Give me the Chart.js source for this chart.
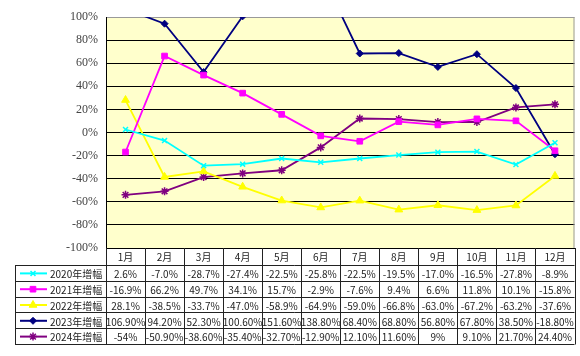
<!DOCTYPE html>
<html>
<head>
<meta charset="utf-8">
<script src="https://cdn.jsdelivr.net/npm/chart.js@4/dist/chart.umd.min.js"></script>
<style>
  html, body { margin: 0; padding: 0; background: #fff; }
  #wrap { width: 580px; height: 356px; }
</style>
</head>
<body>
<div id="wrap"><canvas id="grafico" width="580" height="356"></canvas></div>
<script>
// 月份与各年增幅 (%)
const months = ['1月', '2月', '3月', '4月', '5月', '6月', '7月', '8月', '9月', '10月', '11月', '12月'];
const seriesNames = ['2020年增幅', '2021年增幅', '2022年增幅', '2023年增幅', '2024年增幅'];
const growth2020 = [2.6, -7.0, -28.7, -27.4, -22.5, -25.8, -22.5, -19.5, -17.0, -16.5, -27.8, -8.9];
const growth2021 = [-16.9, 66.2, 49.7, 34.1, 15.7, -2.9, -7.6, 9.4, 6.6, 11.8, 10.1, -15.8];
const growth2022 = [28.1, -38.5, -33.7, -47.0, -58.9, -64.9, -59.0, -66.8, -63.0, -67.2, -63.2, -37.6];
const growth2023 = [106.9, 94.2, 52.3, 100.6, 151.6, 138.8, 68.4, 68.8, 56.8, 67.8, 38.5, -18.8];
const growth2024 = [-54, -50.9, -38.6, -35.4, -32.7, -12.9, 12.1, 11.6, 9, 9.1, 21.7, 24.4];
const decimals = [1, 1, 1, 2, 2];   // 表格里每行的小数位
const yMin = -100, yMax = 100, yStep = 20;

const colors = ['#00FFFF', '#FF00FF', '#FFFF00', '#000080', '#800080'];
const styles = [
  { pointStyle: 'crossRot', pointRadius: 3.5, pointBorderWidth: 1.5 },
  { pointStyle: 'rect', pointRadius: 4, pointBorderWidth: 1 },
  { pointStyle: 'triangle', pointRadius: 4.5, pointBorderWidth: 1 },
  { pointStyle: 'rectRot', pointRadius: 3.5, pointBorderWidth: 1 },
  { pointStyle: 'star', pointRadius: 4, pointBorderWidth: 1.5 }
];
const allSeries = [growth2020, growth2021, growth2022, growth2023, growth2024];

function fmt(v, d) {
  if (d === 2 && Number.isInteger(v)) return v + '%';
  return v.toFixed(d) + '%';
}

const tableFont = '10px "Noto Sans CJK SC", sans-serif';

// 背景 + 下方数据表
const tablePlugin = {
  id: 'tabla',
  beforeDraw(chart) {
    const a = chart.chartArea, c = chart.ctx;
    c.save();
    c.fillStyle = '#FFFFCC';
    c.fillRect(a.left, a.top, a.right - a.left, a.bottom - a.top);
    c.restore();
  },
  afterDraw(chart) {
    const a = chart.chartArea, c = chart.ctx;
    const xs = chart.scales.x;
    const colW = (a.right - a.left) / months.length;
    const rowH = 15.8;
    const headTop = a.bottom, headBot = a.bottom + 17;
    const tableLeft = 15;
    const tableBot = headBot + rowH * seriesNames.length;

    c.save();
    // 右边框
    c.strokeStyle = '#999';
    c.lineWidth = 1;
    c.beginPath();
    c.moveTo(a.right - 0.5, a.top);
    c.lineTo(a.right - 0.5, a.bottom);
    c.stroke();

    // 表格线
    c.strokeStyle = '#222';
    c.beginPath();
    for (let i = 0; i <= months.length; i++) {
      const x = Math.round(a.left + i * colW) + 0.5;
      c.moveTo(x, headTop);
      c.lineTo(x, Math.round(tableBot) + 0.5);
    }
    c.moveTo(tableLeft + 0.5, headBot);
    c.lineTo(tableLeft + 0.5, Math.round(tableBot) + 0.5);
    for (let r = 0; r <= seriesNames.length; r++) {
      const y = Math.round(headBot + r * rowH) + 0.5;
      c.moveTo(tableLeft, y);
      c.lineTo(a.right, y);
    }
    c.stroke();

    // 月份
    c.font = tableFont;
    c.fillStyle = '#222';
    c.textAlign = 'center';
    c.textBaseline = 'middle';
    months.forEach((m, i) => {
      c.fillText(m, xs.getPixelForValue(i), (headTop + headBot) / 2 + 1);
    });

    // 各行
    allSeries.forEach((vals, r) => {
      const yc = headBot + r * rowH + rowH / 2 + 0.5;
      // 图例
      c.strokeStyle = colors[r];
      c.lineWidth = 2;
      c.beginPath();
      c.moveTo(20, yc);
      c.lineTo(47, yc);
      c.stroke();
      c.fillStyle = colors[r];
      c.strokeStyle = colors[r];
      c.lineWidth = styles[r].pointBorderWidth;
      if (Chart.helpers && Chart.helpers.drawPoint) {
        Chart.helpers.drawPoint(c, {
          pointStyle: styles[r].pointStyle,
          radius: styles[r].pointRadius,
          rotation: 0,
          borderWidth: styles[r].pointBorderWidth
        }, 33, yc);
      }
      c.fillStyle = '#222';
      c.textAlign = 'left';
      c.fillText(seriesNames[r], 50, yc + 1);
      c.textAlign = 'center';
      vals.forEach((v, i) => {
        c.fillText(fmt(v, decimals[r]), xs.getPixelForValue(i), yc + 1);
      });
    });
    c.restore();
  }
};

const ctx = document.getElementById('grafico').getContext('2d');

new Chart(ctx, {
  type: 'line',
  data: {
    labels: months,
    datasets: allSeries.map((vals, i) => Object.assign({
      label: seriesNames[i],
      data: vals,
      borderColor: colors[i],
      backgroundColor: colors[i],
      pointBackgroundColor: colors[i],
      pointBorderColor: colors[i],
      borderWidth: 1.8,
      tension: 0,
      fill: false,
      clip: 0
    }, styles[i]))
  },
  options: {
    responsive: false,
    animation: false,
    layout: { padding: { top: 17, right: 1, left: 0, bottom: 0 } },
    plugins: {
      legend: { display: false },
      tooltip: { enabled: false }
    },
    scales: {
      x: {
        offset: true,
        grid: { display: false },
        border: { display: true, color: '#000' },
        ticks: { display: false },
        afterFit(scale) { scale.height = 108; }
      },
      y: {
        min: yMin,
        max: yMax,
        ticks: {
          stepSize: yStep,
          color: '#444',
          padding: 8,
          font: { family: '"Liberation Serif", serif', size: 12 },
          callback: v => v + '%'
        },
        grid: {
          drawTicks: false,
          color: ctx => ctx.tick && ctx.tick.value === yMax ? '#999' : '#000',
          lineWidth: 1
        },
        border: { display: true, color: '#000' },
        afterFit(scale) { scale.width = 106; }
      }
    }
  },
  plugins: [tablePlugin]
});
</script>
</body>
</html>
